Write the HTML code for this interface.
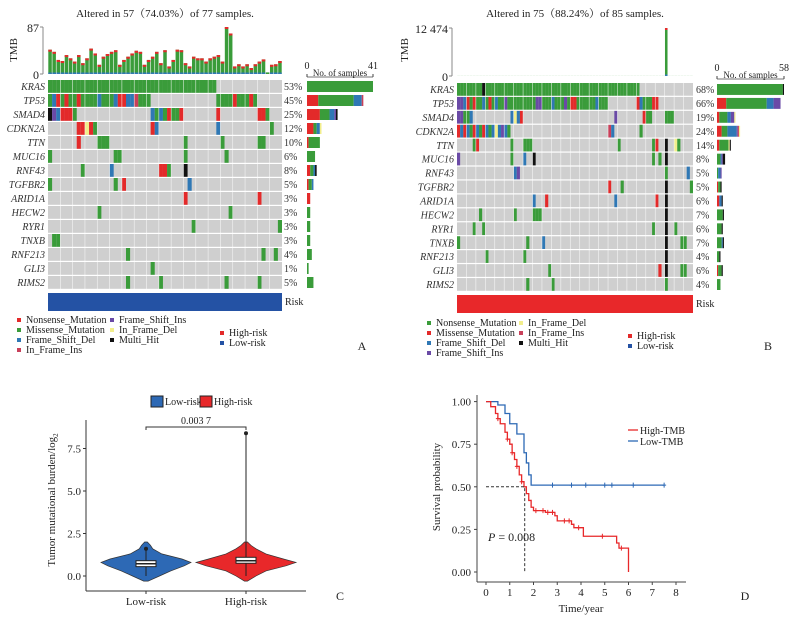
<!DOCTYPE html>
<html><head><meta charset="utf-8"><style>
html,body{margin:0;padding:0;background:#fff}
svg{display:block;font-family:"Liberation Serif","Noto Serif CJK SC",serif}
</style></head><body>
<svg id="fig" width="797" height="620" viewBox="0 0 797 620" xmlns="http://www.w3.org/2000/svg"></svg>
<script>
// ---------- data ----------
const genes = ["KRAS","TP53","SMAD4","CDKN2A","TTN","MUC16","RNF43","TGFBR2","ARID1A","HECW2","RYR1","TNXB","RNF213","GLI3","RIMS2"];
const pctA = ["53%","45%","25%","12%","10%","6%","8%","5%","3%","3%","3%","3%","4%","1%","5%"];
const pctB = ["68%","66%","19%","24%","14%","8%","5%","5%","6%","7%","6%","7%","4%","6%","4%"];
const eventsA = [
 "0-40M",
 "0M 1B 2R 3M 4R 5-6M 7R 8-11M 12B 13-15M 16B 17-18R 19-20B 21I 22-24M 41-44M 45R 46-48M 49R 50M",
 "0K 1P 2B 3-5R 6M 25B 26M 27B 28M 29R 30-31M 32R 41R 51-52R 53M",
 "7-8R 9Y 10R 11M 25R 26B 41B 54M",
 "7R 12-14M 33M 42M 51-52M",
 "0M 16-17M 33M 43M",
 "8M 15B 27-28R 29M 33K",
 "0M 16M 18R 34B",
 "33R 51R",
 "12M 44M",
 "35M 56M",
 "1-2M",
 "19M 52M 55M",
 "25M",
 "19M 27M 43M 51M"
];
const eventsB = [
 "0-7M 8K 9-57M",
 "0-1P 2B 3R 4M 5R 6-7M 8B 9M 10R 11M 12B 13-14M 15P 16-24M 25-26P 27-29M 30B 31-33M 34P 35M 36-37R 38-43M 44B 45-47M 57R 58B 59-61M 62-63R",
 "0-1P 2-3M 4B 17B 18Y 19B 20R 50P 59R 60-61M 66-68M",
 "0R 1B 2R 3B 4M 5R 6B 7M 8R 9B 10M 11B 12Y 13B 14P 15B 16M 48I 49B 58M",
 "5M 6R 17M 21-23M 51M 62M 63R 66K 69Y 70M",
 "0P 17M 21B 24K 62M 64M 66K",
 "18B 19P 66M 73B",
 "48R 52M 66K 74M",
 "24B 28R 50B 63R 66K",
 "7M 18M 24-26M 66K",
 "5M 8M 62M 66K 69M",
 "0M 22M 27B 66K 71-72M",
 "9M 21M 66K",
 "29M 64R 66K 71-72M",
 "22M 30M 66M"
];
const tmbA = [45,41,26,24,35,29,23,35,20,29,47,38,17,32,37,41,44,17,26,32,38,43,41,17,26,32,41,20,44,14,26,45,44,20,14,32,29,29,23,29,32,35,23,87,75,14,18,14,18,11,18,23,27,3,17,18,24];
const tmbB = new Array(75).fill(20); tmbB[66] = 12474;
const highT = [0,0.2,0.4,0.5,0.6,0.8,0.9,1.0,1.1,1.2,1.3,1.4,1.5,1.6,1.7,1.8,1.9,2.0,2.5,2.9,3.0,3.6,3.7,4.1,5.5,5.6,6.0];
const highS = [1,0.97,0.93,0.90,0.87,0.82,0.78,0.75,0.70,0.66,0.62,0.57,0.53,0.50,0.46,0.42,0.38,0.36,0.35,0.33,0.30,0.28,0.26,0.21,0.17,0.14,0.0];
const highCensor = [0.5,0.9,1.1,1.3,1.5,2.1,2.4,2.6,2.8,3.3,3.5,3.9,4.9,5.7];
const lowT = [0,0.5,0.8,1.0,1.3,1.6,1.7,1.8,1.9,7.5];
const lowS = [1,0.98,0.93,0.87,0.81,0.70,0.64,0.57,0.51,0.51];
const lowCensor = [2.8,3.6,4.2,5.0,5.3,6.2,7.5];
const violinY = [-0.3,0.0,0.3,0.6,0.8,1.0,1.3,1.6,1.8,2.0];
const lowDens = [0.05,0.3,0.55,0.85,1.0,0.8,0.35,0.15,0.1,0.03];
const highDens = [0.03,0.2,0.4,0.8,1.0,0.75,0.4,0.2,0.1,0.03];
const lowBox = [0.55,0.72,0.9,0.0,1.6];
const highBox = [0.75,0.9,1.1,0.0,8.4];

// ---------- helpers ----------
const NS="http://www.w3.org/2000/svg";
const svg=document.getElementById('fig');
function mk(tag,attrs,parent){const e=document.createElementNS(NS,tag);for(const k in attrs)e.setAttribute(k,attrs[k]);(parent||svg).appendChild(e);return e;}
function txt(x,y,s,size,anchor,parent,extra){const t=mk('text',Object.assign({x:x,y:y,'font-size':size,'text-anchor':anchor||'start',fill:'#222'},extra||{}),parent);t.textContent=s;return t;}
const COL={R:'#e32a2a',M:'#3a9c3a',B:'#2f78b5',P:'#6a4aa6',Y:'#f2ee8c',I:'#c8405a',K:'#111'};
function parse(str){const out=[];str.split(' ').forEach(tok=>{const m=tok.match(/^(\d+)(?:-(\d+))?([A-Z])$/);const a=+m[1],b=m[2]?+m[2]:a;for(let i=a;i<=b;i++)out.push([i,m[3]]);});return out;}

function oncoplot(o){
  const g=mk('g',{});
  
  
  const cw=(o.x1-o.x0)/o.n;
  const title=txt((o.x0+o.x1)/2,o.titleY,o.title,11,'middle',g);
  
  
  const tg=mk('g',{},g);
  
  
  const ty=v=>o.tmbBot-(v/o.tmbMax)*(o.tmbBot-o.tmbTop);
  mk('line',{x1:o.axX,y1:o.tmbTop,x2:o.axX,y2:o.tmbBot,stroke:'#888','stroke-width':1},tg);
  mk('line',{x1:o.axX-3,y1:o.tmbTop,x2:o.axX,y2:o.tmbTop,stroke:'#888'},tg);
  mk('line',{x1:o.axX-3,y1:o.tmbBot,x2:o.axX,y2:o.tmbBot,stroke:'#888'},tg);
  txt(o.axX-4,o.tmbTop+5,o.tmbLabel,12,'end',tg);
  txt(o.axX-4,o.tmbBot+5,'0',12,'end',tg);
  txt(17,50,'TMB',11,'middle',tg,{transform:`rotate(-90 ${o.tmbTitleX} 50)`,x:o.tmbTitleX});
  o.tmb.forEach((v,i)=>{
    const top=ty(v),h=o.tmbBot-top;
    const b=mk('rect',{x:o.x0+i*cw+0.3,y:top,width:cw-0.6,height:h,fill:'#3a9c3a'},tg);
    
    
    if(h>4){mk('rect',{x:o.x0+i*cw+0.3,y:top,width:cw-0.6,height:2,fill:'#e32a2a'},tg);
      mk('rect',{x:o.x0+i*cw+0.3,y:o.tmbBot-1.5,width:cw-0.6,height:1.5,fill:'#2f78b5'},tg);}
  });
  const rh=(o.y1-o.y0)/genes.length;
  genes.forEach((gname,r)=>{
    const y=o.y0+r*rh;
    const rg=mk('g',{},g);
    
    
    mk('rect',{x:o.x0,y:y,width:o.x1-o.x0,height:rh-1.2,fill:'#cfcfcf'},rg);
    const ev=parse(o.events[r]);
    const counts={};
    ev.forEach(([c,t])=>{mk('rect',{x:o.x0+c*cw,y:y,width:cw,height:rh-1.2,fill:COL[t]},rg);counts[t]=(counts[t]||0)+1;});
    const gl=txt(o.geneX,y+rh*0.72,gname,10,'end',rg,{'font-style':'italic',fill:'#333'});
    
    
    txt(o.pctX,y+rh*0.72,o.pct[r],10,'start',rg,{fill:'#333'});
    let sx=o.sideX0;const sw=(o.sideX1-o.sideX0)/o.sideMax;
    ['R','M','B','P','I','Y','K'].forEach(t=>{if(counts[t]){mk('rect',{x:sx,y:y+1,width:counts[t]*sw,height:rh-3,fill:COL[t]},rg);sx+=counts[t]*sw;}});
  });
  for(let c=1;c<o.n;c++){ if(c%3===0) mk('line',{x1:o.x0+c*cw,y1:o.y0,x2:o.x0+c*cw,y2:o.y1,stroke:'#fff','stroke-width':0.6,opacity:0.8},g);}
  mk('line',{x1:o.sideX0,y1:o.sideAxY,x2:o.sideX1,y2:o.sideAxY,stroke:'#444','stroke-width':0.8},g);
  mk('line',{x1:o.sideX0,y1:o.sideAxY,x2:o.sideX0,y2:o.sideAxY-3,stroke:'#444'},g);
  mk('line',{x1:o.sideX1,y1:o.sideAxY,x2:o.sideX1,y2:o.sideAxY-3,stroke:'#444'},g);
  txt(o.sideX0,o.sideAxY-8,'0',10,'middle',g);
  txt(o.sideX1,o.sideAxY-8,String(o.sideMax),10,'middle',g);
  txt((o.sideX0+o.sideX1)/2,o.sideAxY-1,'No. of samples',9,'middle',g);
  const rb=mk('rect',{x:o.x0,y:o.riskY,width:o.x1-o.x0,height:18,fill:o.riskCol},g);
  
  
  txt(o.x1+3,o.riskY+12,'Risk',10,'start',g);
  const lg=mk('g',{},g);
  
  
  o.legend.forEach(([c,lab,lx,ly])=>{mk('rect',{x:lx,y:ly-5,width:4,height:4,fill:c},lg);txt(lx+9,ly,lab,10,'start',lg);});
  txt(o.panelX,o.panelY,o.panel,12,'middle',g);
}

oncoplot({name:'oncoplot-a',x0:48,x1:282,n:57,y0:80,y1:290,titleY:17,title:'Altered in 57（74.03%）of 77 samples.',
  tmb:tmbA,tmbMax:87,tmbTop:27,tmbBot:74,axX:43,tmbLabel:'87',tmbTitleX:17,events:eventsA,pct:pctA,geneX:45,pctX:284,
  sideX0:307,sideX1:373,sideMax:41,sideAxY:77,riskY:293,riskCol:'#2452a4',panel:'A',panelX:362,panelY:350,
  legend:[['#e32a2a','Nonsense_Mutation',17,323],['#3a9c3a','Missense_Mutation',17,333],['#2f78b5','Frame_Shift_Del',17,343],['#c8405a','In_Frame_Ins',17,353],
   ['#6a4aa6','Frame_Shift_Ins',110,323],['#f2ee8c','In_Frame_Del',110,333],['#111','Multi_Hit',110,343],['#e32a2a','High-risk',220,336],['#2452a4','Low-risk',220,346]]});
oncoplot({name:'oncoplot-b',x0:457,x1:693,n:75,y0:83,y1:292,titleY:17,title:'Altered in 75（88.24%）of 85 samples.',
  tmb:tmbB,tmbMax:12474,tmbTop:28,tmbBot:76,axX:452,tmbLabel:'12 474',tmbTitleX:408,events:eventsB,pct:pctB,geneX:454,pctX:696,
  sideX0:717,sideX1:784,sideMax:58,sideAxY:79,riskY:295,riskCol:'#e8282a',panel:'B',panelX:768,panelY:350,
  legend:[['#3a9c3a','Nonsense_Mutation',427,326],['#e32a2a','Missense_Mutation',427,336],['#2f78b5','Frame_Shift_Del',427,346],['#6a4aa6','Frame_Shift_Ins',427,356],
   ['#f2ee8c','In_Frame_Del',519,326],['#c8405a','In_Frame_Ins',519,336],['#111','Multi_Hit',519,346],['#e32a2a','High-risk',628,339],['#2452a4','Low-risk',628,349]]});

// ---------- Panel C violin ----------
(function(){
  const g=mk('g',{});
  
  
  const yv=v=>576-v*17;
  const xc={low:146,high:246};
  mk('line',{x1:86,y1:420,x2:86,y2:591,stroke:'#333'},g);
  mk('line',{x1:86,y1:591,x2:306,y2:591,stroke:'#333'},g);
  [0,2.5,5,7.5].forEach(v=>{mk('line',{x1:83,y1:yv(v),x2:86,y2:yv(v),stroke:'#333'},g);txt(81,yv(v)+4,v.toFixed(1),11,'end',g);});
  [['Low-risk',146],['High-risk',246]].forEach(([l,x])=>{mk('line',{x1:x,y1:591,x2:x,y2:594,stroke:'#333'},g);txt(x,605,l,11,'middle',g);});
  const yt=txt(0,0,'Tumor mutational burden/log',11,'middle',g,{transform:'translate(55,500) rotate(-90)'});
  const sub=mk('tspan',{'font-size':7,dy:3},yt);sub.textContent='2';
  function violin(cx,dens,col,maxW,name){
    let pts=[];violinY.forEach((v,i)=>pts.push([cx+dens[i]*maxW,yv(v)]));
    for(let i=violinY.length-1;i>=0;i--)pts.push([cx-dens[i]*maxW,yv(violinY[i])]);
    const p=mk('path',{d:'M'+pts.map(p=>p.join(',')).join('L')+'Z',fill:col,stroke:'#333','stroke-width':0.7},g);
    
    
  }
  violin(xc.low,lowDens,'#2d69b5',45,'violin-low-risk');
  violin(xc.high,highDens,'#e8282a',50,'violin-high-risk');
  function box(cx,b){
    mk('line',{x1:cx,y1:yv(b[3]),x2:cx,y2:yv(b[4]),stroke:'#222'},g);
    mk('rect',{x:cx-10,y:yv(b[2]),width:20,height:yv(b[0])-yv(b[2]),fill:'#fff',stroke:'#222'},g);
    mk('line',{x1:cx-10,y1:yv(b[1]),x2:cx+10,y2:yv(b[1]),stroke:'#222','stroke-width':1.5},g);
    mk('circle',{cx:cx,cy:yv(b[4]),r:2,fill:'#222'},g);
  }
  box(xc.low,lowBox);box(xc.high,highBox);
  mk('path',{d:'M146,430 L146,427 L246,427 L246,430',fill:'none',stroke:'#333'},g);
  txt(196,424,'0.003 7',10,'middle',g);
  const lg=mk('g',{},g);
  
  
  mk('rect',{x:151,y:396,width:12,height:11,fill:'#2d69b5',stroke:'#222'},lg);txt(165,405,'Low-risk',10,'start',lg);
  mk('rect',{x:200,y:396,width:12,height:11,fill:'#e8282a',stroke:'#222'},lg);txt(214,405,'High-risk',10,'start',lg);
  txt(340,600,'C',12,'middle',g);
})();

// ---------- Panel D KM ----------
(function(){
  const g=mk('g',{});
  
  
  const xs=t=>486+t*23.75, ys=s=>572-s*170.4;
  mk('line',{x1:477,y1:395,x2:477,y2:582,stroke:'#444'},g);
  mk('line',{x1:477,y1:582,x2:686,y2:582,stroke:'#444'},g);
  [0,0.25,0.5,0.75,1].forEach(v=>{mk('line',{x1:474,y1:ys(v),x2:477,y2:ys(v),stroke:'#444'},g);txt(471,ys(v)+4,v.toFixed(2),11,'end',g);});
  for(let t=0;t<=8;t++){mk('line',{x1:xs(t),y1:582,x2:xs(t),y2:585,stroke:'#444'},g);txt(xs(t),596,String(t),11,'middle',g);}
  txt(581,612,'Time/year',11,'middle',g);
  txt(0,0,'Survival probability',11,'middle',g,{transform:'translate(440,487) rotate(-90)'});
  function curve(T,S,C,col,name){
    let d='M'+xs(T[0])+','+ys(S[0]);
    for(let i=1;i<T.length;i++){d+='H'+xs(T[i])+'V'+ys(S[i]);}
    const p=mk('path',{d:d,fill:'none',stroke:col,'stroke-width':1.3},g);
    
    
    C.forEach(t=>{let s=S[0];for(let i=0;i<T.length;i++)if(T[i]<=t)s=S[i];
      mk('path',{d:`M${xs(t)},${ys(s)-2.5}V${ys(s)+2.5}M${xs(t)-2},${ys(s)}H${xs(t)+2}`,stroke:col,'stroke-width':1},g);});
  }
  curve(lowT,lowS,lowCensor,'#2d69b5','low-tmb-curve');
  curve(highT,highS,highCensor,'#e8282a','high-tmb-curve');
  mk('path',{d:`M${xs(0)},${ys(0.5)}H${xs(1.63)}V${ys(0)}`,fill:'none',stroke:'#333','stroke-dasharray':'3,2'},g);
  const pt=txt(488,541,'',12,'start',g);
  const it=mk('tspan',{'font-style':'italic'},pt);it.textContent='P';
  const rest=mk('tspan',{},pt);rest.textContent=' = 0.008';
  const lg=mk('g',{},g);
  
  
  mk('line',{x1:628,y1:430,x2:638,y2:430,stroke:'#e8282a','stroke-width':1.3},lg);txt(640,434,'High-TMB',10,'start',lg);
  mk('line',{x1:628,y1:441,x2:638,y2:441,stroke:'#2d69b5','stroke-width':1.3},lg);txt(640,445,'Low-TMB',10,'start',lg);
  txt(745,600,'D',12,'middle',g);
})();
</script>
</body></html>
